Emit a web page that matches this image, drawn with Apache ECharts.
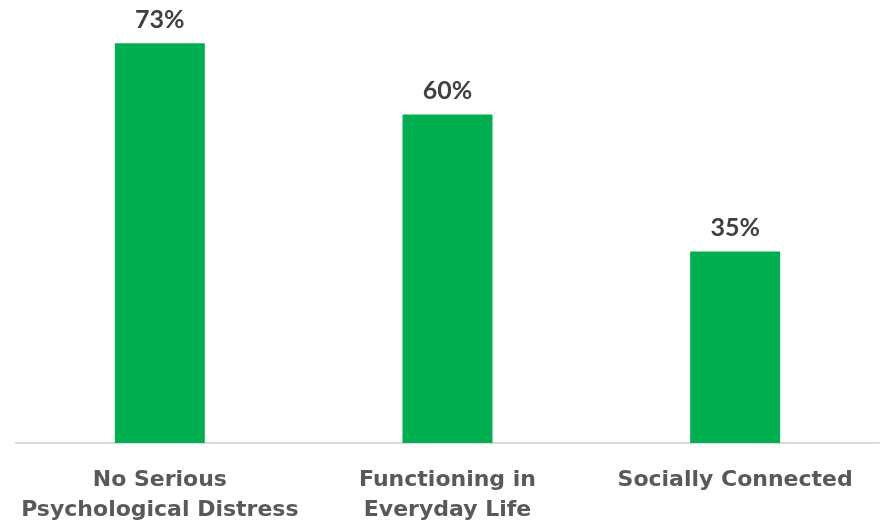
<!DOCTYPE html>
<html>
<head>
<meta charset="utf-8">
<script src="https://cdn.jsdelivr.net/npm/echarts@6/dist/echarts.min.js"></script>
<style>
  html, body { margin: 0; padding: 0; background: #fff; }
  #main { width: 882px; height: 525px; }
</style>
</head>
<body>
<div id="main"></div>
<script>
var categories = ['No Serious\nPsychological Distress', 'Functioning in\nEveryday Life', 'Socially Connected'];
var values = [73, 60, 35];

var chart = echarts.init(document.getElementById('main'));
chart.setOption({
    animation: false,
    grid: {
        left: 16,
        right: 3,
        top: 5,
        bottom: 82
    },
    xAxis: {
        type: 'category',
        data: categories,
        axisLine: { lineStyle: { color: '#d9d9d9', width: 2 } },
        axisTick: { show: false },
        axisLabel: {
            color: '#595959',
            fontFamily: 'DejaVu Sans',
            fontWeight: 'bold',
            fontSize: 22,
            lineHeight: 30,
            margin: 22,
            interval: 0
        }
    },
    yAxis: {
        type: 'value',
        min: 0,
        max: 80,
        show: false
    },
    series: [{
        type: 'bar',
        data: values,
        barWidth: 90,
        itemStyle: { color: '#00b050' },
        label: {
            show: true,
            position: 'top',
            distance: 11,
            formatter: '{c}%',
            color: '#404040',
            fontFamily: 'Lato',
            fontWeight: 'bold',
            fontSize: 25
        }
    }]
});
</script>
</body>
</html>
